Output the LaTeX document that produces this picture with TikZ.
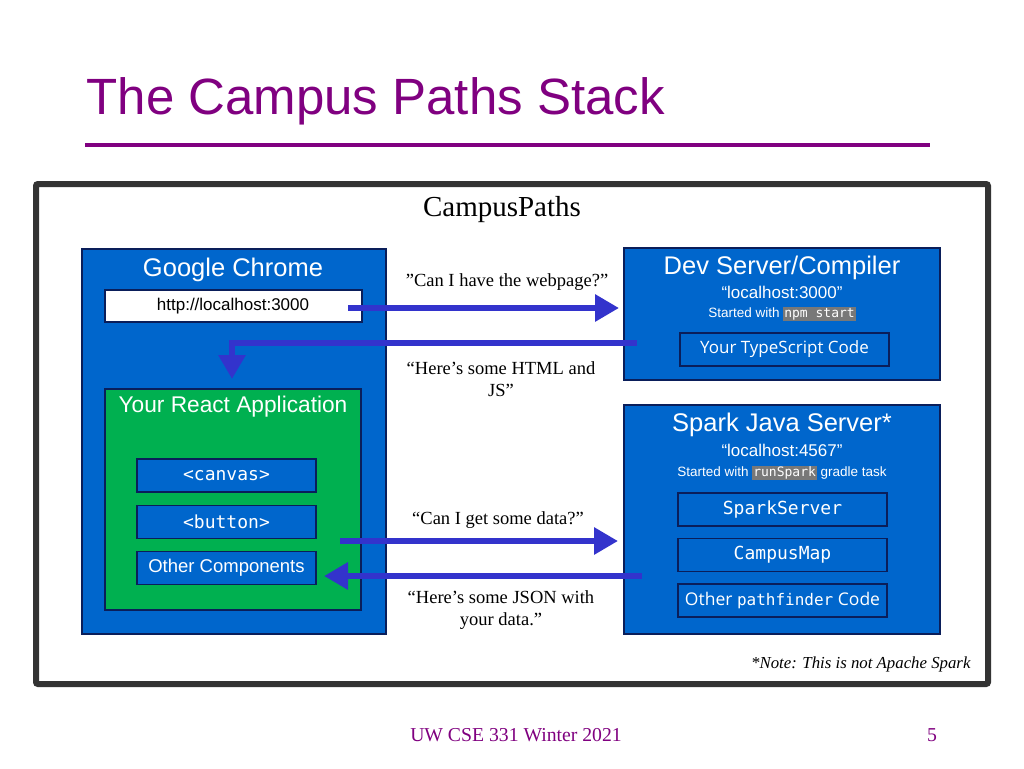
\documentclass[tikz,border=0pt]{standalone}
\usepackage{fontspec}
\setmainfont{Liberation Serif}
\newfontfamily\sansf{Liberation Sans}
\newfontfamily\monof{DejaVu Sans Mono}
\newfontfamily\opens{Open Sans}
\usetikzlibrary{arrows.meta}
\definecolor{purp}{RGB}{128,0,128}
\definecolor{bblue}{RGB}{0,102,204}
\definecolor{navy}{RGB}{10,30,90}
\definecolor{ggreen}{RGB}{0,176,80}
\definecolor{arr}{RGB}{51,51,204}
\definecolor{codebg}{RGB}{120,120,120}
\begin{document}
\begin{tikzpicture}[x=1pt,y=-1pt,
  big/.style={draw=navy,line width=2.5pt,fill=bblue},
  sub/.style={draw=navy,line width=1.8pt,fill=bblue,text=white},
  ttl/.style={text=white,font=\sansf\fontsize{25.5}{27}\selectfont},
  smt/.style={text=white,font=\sansf\fontsize{17}{19}\selectfont},
  lbl/.style={font=\fontsize{18.5}{22}\selectfont,align=center},
  code/.style={font=\monof\fontsize{18}{20}\selectfont},
  ar/.style={draw=arr,line width=6pt,-{Triangle[length=24pt,width=26pt]}},
  cb/.style={fill=codebg,inner sep=1pt}]
\useasboundingbox (0,0) rectangle (1024,768);
\fill[white] (0,0) rectangle (1024,768);
\node[anchor=west,text=purp,font=\sansf\fontsize{51}{55}\selectfont] (title) at (83,101) {The Campus Paths Stack};
\draw[purp,line width=4pt] (85,145) coordinate (r1) -- (930,145) coordinate (r2);
\draw[draw=black!80,line width=6pt,fill=white,rounded corners=2pt] (36,184) rectangle (988,684);
\node[font=\fontsize{29}{31}\selectfont] (cp) at (502,210) {CampusPaths};
% chrome
\draw[big] (82,249) rectangle (386,634);
\node[ttl] (gc) at (233,270) {Google Chrome};
\draw[draw=navy,line width=1.8pt,fill=white] (105,290) rectangle (362,322);
\node[font=\sansf\fontsize{17}{19}\selectfont] (url) at (233,306) {http://localhost:3000};
\draw[draw=navy,line width=1.8pt,fill=ggreen] (105,389) rectangle (361,610);
\node[ttl,font=\sansf\fontsize{22.7}{25}\selectfont] (ra) at (233,407) {Your React Application};
\node[sub,minimum width=179pt,minimum height=33pt,code] (canvas) at (226.5,475.5) {<canvas>};
\node[sub,minimum width=179pt,minimum height=33pt,code] (button) at (226.5,522) {<button>};
\node[sub,minimum width=179pt,minimum height=33pt,font=\sansf\fontsize{18.5}{20}\selectfont] (oc) at (226.5,568) {Other Components};
% dev server
\draw[big] (624,248) rectangle (940,380);
\node[ttl] (ds) at (782,268) {Dev Server/Compiler};
\node[smt] (lh1) at (782,292) {“localhost:3000”};
\node[text=white,font=\sansf\fontsize{13.5}{15}\selectfont,inner sep=0pt] (sw1) at (782,314) {Started with {\setlength{\fboxsep}{1pt}\colorbox{codebg}{\monof\fontsize{13}{15}\selectfont npm start}}};
\node[sub,minimum width=209pt,minimum height=33pt,font=\opens\fontsize{17}{19}\selectfont] (ts) at (784.5,349.5) {Your TypeScript Code};
% spark
\draw[big] (624,405) rectangle (940,634);
\node[ttl] (sp) at (782,425) {Spark Java Server*};
\node[smt] (lh2) at (782,450) {“localhost:4567”};
\node[text=white,font=\sansf\fontsize{13.5}{15}\selectfont,inner sep=0pt] (sw2) at (782,473) {Started with {\setlength{\fboxsep}{1pt}\colorbox{codebg}{\monof\fontsize{13}{15}\selectfont runSpark}} gradle task};
\node[sub,minimum width=209pt,minimum height=33pt,code] (ss) at (782.5,509.5) {SparkServer};
\node[sub,minimum width=209pt,minimum height=33pt,code] (cm) at (782.5,555) {CampusMap};
\node[sub,minimum width=209pt,minimum height=33pt,font=\opens\fontsize{17.5}{19}\selectfont] (op) at (782.5,600.5) {Other {\monof\fontsize{16}{18}\selectfont pathfinder} Code};
% arrows
\coordinate (a1s) at (348,308); \coordinate (a1e) at (619,308);
\draw[ar] (a1s) -- (a1e);
\coordinate (a2s) at (637,343); \coordinate (a2e) at (232,379);
\draw[ar] (a2s) -| (a2e);
\coordinate (a3s) at (340,541); \coordinate (a3e) at (618,541);
\draw[ar] (a3s) -- (a3e);
\coordinate (a4s) at (642,576); \coordinate (a4e) at (324,576);
\draw[ar] (a4s) -- (a4e);
% labels
\node[lbl] (l1) at (507,282) {”Can I have the webpage?”};
\node[lbl] (l2) at (501,379) {“Here’s some HTML and\\JS”};
\node[lbl] (l3) at (498,520) {“Can I get some data?”};
\node[lbl] (l4) at (501,610) {“Here’s some JSON with\\your data.”};
\node[anchor=east,font=\itshape\fontsize{16.8}{18}\selectfont] (note) at (974,664) {*Note: This is not Apache Spark};
\node[text=purp,font=\fontsize{19.7}{22}\selectfont] (foot) at (516,735) {UW CSE 331 Winter 2021};
\node[text=purp,font=\fontsize{19.7}{22}\selectfont] (pg) at (932,735) {5};
\end{tikzpicture}
\end{document}
